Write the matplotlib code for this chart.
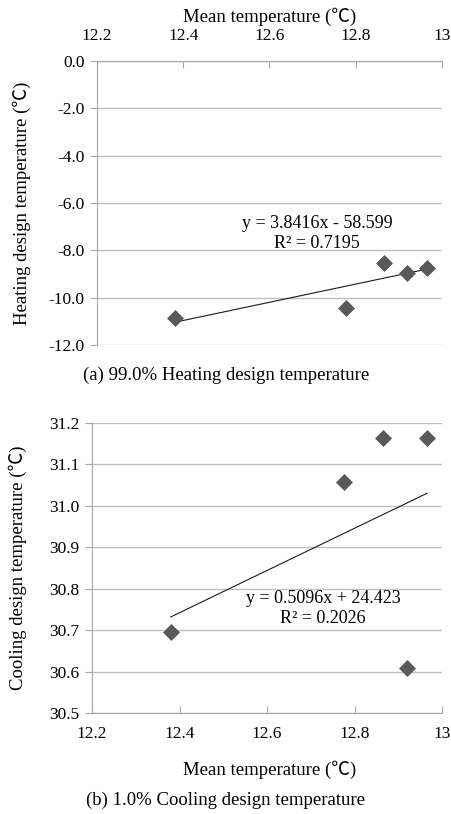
import matplotlib
matplotlib.use("Agg")
import matplotlib.pyplot as plt
import numpy as np

plt.rcParams['font.family'] = ['Liberation Serif', 'Noto Sans CJK JP', 'DejaVu Sans']
plt.rcParams['axes.unicode_minus'] = False

# data
mean_temp = [12.38, 12.777, 12.866, 12.919, 12.966]
heating = [-10.87, -10.44, -8.54, -8.96, -8.75]
cooling = [30.695, 31.058, 31.165, 30.608, 31.163]

x_ticks = [12.2, 12.4, 12.6, 12.8, 13.0]
x_ticklabels = ["12.2", "12.4", "12.6", "12.8", "13"]
heat_ticks = [0, -2, -4, -6, -8, -10, -12]
cool_ticks = [30.5, 30.6, 30.7, 30.8, 30.9, 31.0, 31.1, 31.2]

heat_fit = (3.8416, -58.599, 0.7195)
cool_fit = (0.5096, 24.423, 0.2026)

W, H = 452, 814
fig = plt.figure(figsize=(W / 100, H / 100), dpi=100)

grid_c = '#c0c0c0'
axis_c = '#a6a6a6'
mark_c = '#595959'
tick_fs = 12.5
lab_fs = 13.5
eq_fs = 13


def px_axes(left, top, right, bottom):
    return fig.add_axes([left / W, 1 - bottom / H, (right - left) / W, (bottom - top) / H])


def style(ax):
    for s in ax.spines.values():
        s.set_visible(False)
    ax.yaxis.grid(True, color=grid_c, lw=1.0)
    ax.set_axisbelow(True)
    ax.tick_params(axis='y', direction='out', length=5, color=axis_c, labelsize=tick_fs, pad=4)
    ax.tick_params(axis='x', direction='in', length=5, color=axis_c, labelsize=tick_fs)


# (a) heating
ax1 = px_axes(97, 61, 442, 345)
style(ax1)
for side in ['left', 'top']:
    ax1.spines[side].set_visible(True)
    ax1.spines[side].set_color(axis_c)
ax1.xaxis.tick_top()
ax1.tick_params(axis='x', pad=12)
ax1.set_xlim(12.2, 13.0)
ax1.set_ylim(-12, 0)
ax1.set_xticks(x_ticks, x_ticklabels)
ax1.set_yticks(heat_ticks, [f"{v:.1f}" for v in heat_ticks])
ax1.scatter(mean_temp, heating, marker='D', s=75, color=mark_c, lw=0, zorder=3)
xf = np.array([min(mean_temp), max(mean_temp)])
ax1.plot(xf, heat_fit[0] * xf + heat_fit[1], color='#1a1a1a', lw=0.8, zorder=2)
ax1.text(12.71, -6.85, f"y = {heat_fit[0]}x - {-heat_fit[1]}", ha='center', va='center', fontsize=eq_fs)
ax1.text(12.71, -7.7, f"R² = {heat_fit[2]}", ha='center', va='center', fontsize=eq_fs)
fig.text(270 / W, 1 - 17 / H, "Mean temperature (℃)", ha='center', va='center', fontsize=lab_fs)
fig.text(22 / W, 1 - 203 / H, "Heating design temperature (℃)", ha='center', va='center',
         rotation=90, fontsize=lab_fs)
fig.text(0.5, 1 - 375 / H, "(a) 99.0% Heating design temperature", ha='center', va='center', fontsize=lab_fs)

# (b) cooling
ax2 = px_axes(92, 423, 442, 713)
style(ax2)
for side in ['left', 'bottom']:
    ax2.spines[side].set_visible(True)
    ax2.spines[side].set_color(axis_c)
ax2.tick_params(axis='x', pad=9)
ax2.set_xlim(12.2, 13.0)
ax2.set_ylim(30.5, 31.2)
ax2.set_xticks(x_ticks, x_ticklabels)
ax2.set_yticks(cool_ticks, [f"{v:.1f}" for v in cool_ticks])
ax2.scatter(mean_temp, cooling, marker='D', s=75, color=mark_c, lw=0, zorder=3)
ax2.plot(xf, cool_fit[0] * xf + cool_fit[1], color='#1a1a1a', lw=0.8, zorder=2)
ax2.text(12.728, 30.777, f"y = {cool_fit[0]}x + {cool_fit[1]}", ha='center', va='center', fontsize=eq_fs)
ax2.text(12.728, 30.729, f"R² = {cool_fit[2]}", ha='center', va='center', fontsize=eq_fs)
fig.text(270 / W, 1 - 770 / H, "Mean temperature (℃)", ha='center', va='center', fontsize=lab_fs)
fig.text(18 / W, 1 - 568 / H, "Cooling design temperature (℃)", ha='center', va='center',
         rotation=90, fontsize=lab_fs)
fig.text(0.5, 1 - 800 / H, "(b) 1.0% Cooling design temperature", ha='center', va='center', fontsize=lab_fs)

fig.savefig("out.png", dpi=100)
